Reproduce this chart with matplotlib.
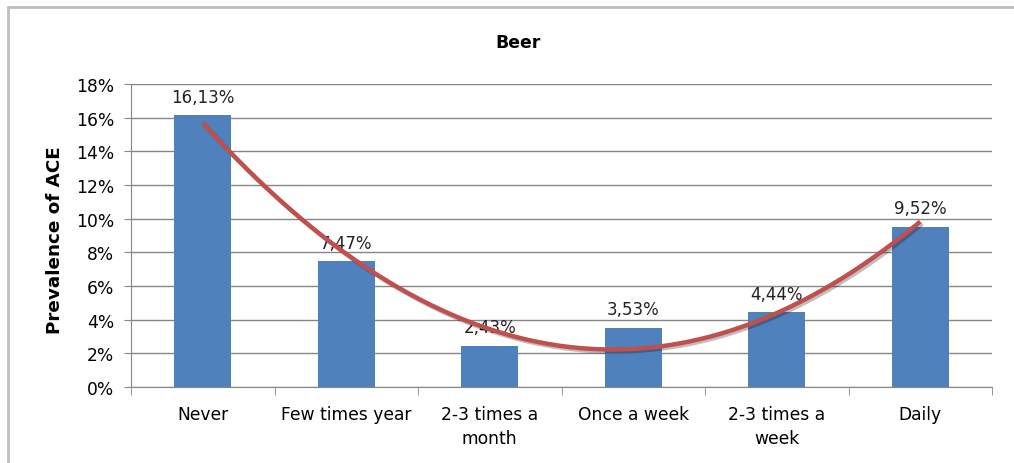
import matplotlib
matplotlib.use("Agg")
import matplotlib.pyplot as plt
from matplotlib.patches import Rectangle
import matplotlib.patheffects as pe
import numpy as np

categorias = ["Never", "Few times year", "2-3 times a\nmonth", "Once a week",
              "2-3 times a\nweek", "Daily"]
prevalencia = [16.13, 7.47, 2.43, 3.53, 4.44, 9.52]
etiquetas = ["16,13%", "7,47%", "2,43%", "3,53%", "4,44%", "9,52%"]
yticks = [0, 2, 4, 6, 8, 10, 12, 14, 16, 18]

plt.rcParams['font.family'] = ['DejaVu Sans']

W, H = 1014, 464
fig = plt.figure(figsize=(W / 100, H / 100), dpi=100)

# marco del gráfico (solo se ven borde superior e izquierdo)
fig.patches.append(Rectangle((8 / W, -0.1), 1.2, 1 - 8 / H + 0.1,
                             transform=fig.transFigure, fill=False,
                             edgecolor='#bfbfbf', linewidth=2))

ax = fig.add_axes([131 / W, 1 - 388 / H, (992 - 131) / W, (388 - 85) / H])

x = np.arange(len(categorias))
ax.bar(x, prevalencia, width=0.4, color='#4F81BD', zorder=2)

for xi, v, t in zip(x, prevalencia, etiquetas):
    ax.annotate(t, (xi, v), xytext=(0, 7), textcoords='offset points',
                ha='center', va='bottom', fontsize=12, color='#222222', zorder=3)

# linea de tendencia polinómica (orden 2)
coef = np.polyfit(x, prevalencia, 2)
xs = np.linspace(x[0], x[-1], 200)
ax.plot(xs, np.polyval(coef, xs), color='#C0504D', linewidth=3.2, zorder=4,
        solid_capstyle='butt',
        path_effects=[pe.SimpleLineShadow(offset=(1.5, -1.5), alpha=0.25),
                      pe.Normal()])

ax.set_xlim(-0.5, len(categorias) - 0.5)
ax.set_ylim(0, 18)
ax.set_yticks(yticks)
ax.set_yticklabels([f"{t}%" for t in yticks], fontsize=12.3)
ax.set_xticks(x)
ax.set_xticklabels(categorias, fontsize=12.3, linespacing=1.45)
ax.set_xticks(np.arange(-0.5, len(categorias)), minor=True)
ax.tick_params(axis='x', which='major', length=0, pad=13)
ax.tick_params(axis='x', which='minor', length=6, color='#868686', direction='out')
ax.tick_params(axis='y', length=5, color='#868686', direction='out', pad=7)

ax.grid(axis='y', color='#868686', linewidth=1, zorder=0)
ax.set_axisbelow(True)
for s in ['top', 'right']:
    ax.spines[s].set_visible(False)
ax.spines['left'].set_color('#868686')
ax.spines['bottom'].set_color('#868686')

fig.text(55 / W, 1 - 240 / H, "Prevalence of ACE", rotation=90, ha='center',
         va='center', fontsize=13.2, fontweight='bold')
fig.text(518 / W, 1 - 43 / H, "Beer", ha='center', va='center',
         fontsize=12.4, fontweight='bold')

fig.savefig("out.png", dpi=100)
